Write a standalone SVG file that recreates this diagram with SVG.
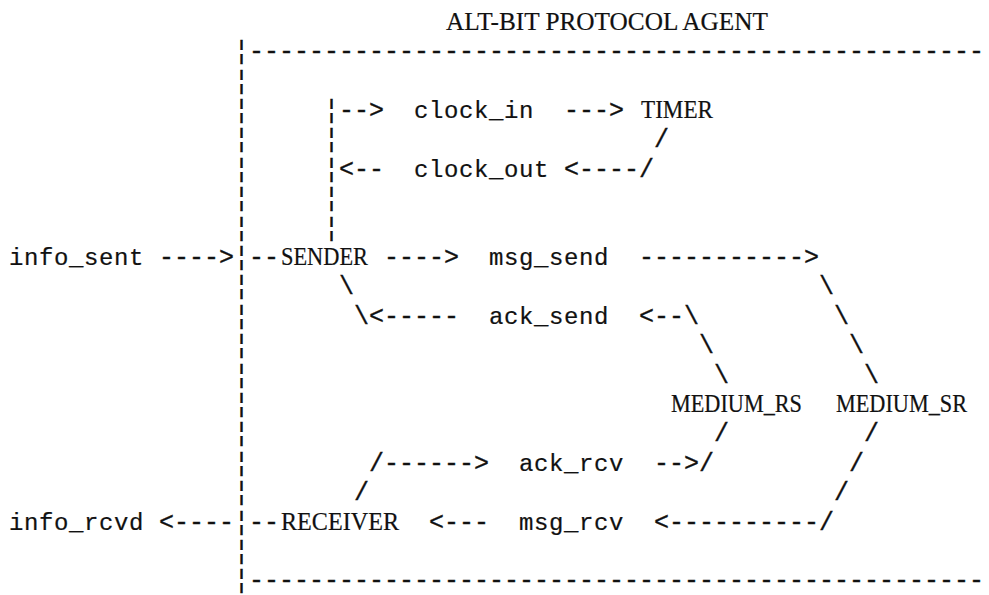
<svg xmlns="http://www.w3.org/2000/svg" width="989" height="595" viewBox="0 0 989 595">
<style>
.c{font-family:"Liberation Mono","DejaVu Sans Mono",monospace;font-size:25px;fill:#111;stroke:#111;stroke-width:0.35px}
.l{font-family:"Liberation Mono","DejaVu Sans Mono",monospace;font-size:24px;letter-spacing:0.6px;fill:#111;stroke:#111;stroke-width:0.2px}
.u{font-family:"Liberation Serif","DejaVu Serif",serif;font-size:25px;fill:#111;stroke:#111;stroke-width:0.2px}
</style>
<rect width="989" height="595" fill="#fff"/>
<g id="title">
<text class="u" x="446" y="29.8" textLength="322" lengthAdjust="spacingAndGlyphs">ALT-BIT PROTOCOL AGENT</text>
</g>
<g id="agent-boundary">
<text class="c" x="234 234 234 234 234 234 234 234 234 234 234 234 234 234 234 234 234 234 234" y="59.2 88.6 118 147.4 176.8 206.2 235.6 265 294.4 323.8 353.2 382.6 412 441.4 470.8 500.2 529.6 559 588.4">¦¦¦¦¦¦¦¦¦¦¦¦¦¦¦¦¦¦¦</text>
<text class="c" x="249" y="59.2">-------------------------------------------------</text>
<text class="c" x="249" y="588.4">-------------------------------------------------</text>
</g>
<g id="node-sender">
<text class="u" x="281" y="265" textLength="87" lengthAdjust="spacingAndGlyphs">SENDER</text>
</g>
<g id="node-receiver">
<text class="u" x="281" y="529.6" textLength="118" lengthAdjust="spacingAndGlyphs">RECEIVER</text>
</g>
<g id="node-timer">
<text class="u" x="641" y="118" textLength="72" lengthAdjust="spacingAndGlyphs">TIMER</text>
</g>
<g id="node-medium-rs">
<text class="u" x="671" y="412" textLength="131" lengthAdjust="spacingAndGlyphs">MEDIUM_RS</text>
</g>
<g id="node-medium-sr">
<text class="u" x="836" y="412" textLength="131" lengthAdjust="spacingAndGlyphs">MEDIUM_SR</text>
</g>
<g id="label-info-sent"><text class="l" x="9" y="265">info_sent</text></g>
<g id="label-info-rcvd"><text class="l" x="9" y="529.6">info_rcvd</text></g>
<g id="label-clock-in"><text class="l" x="414" y="118">clock_in</text></g>
<g id="label-clock-out"><text class="l" x="414" y="176.8">clock_out</text></g>
<g id="label-msg-send"><text class="l" x="489" y="265">msg_send</text></g>
<g id="label-ack-send"><text class="l" x="489" y="323.8">ack_send</text></g>
<g id="label-ack-rcv"><text class="l" x="519" y="470.8">ack_rcv</text></g>
<g id="label-msg-rcv"><text class="l" x="519" y="529.6">msg_rcv</text></g>
<g id="connectors">
<text class="c" x="324" y="118">¦--&gt;</text>
<text class="c" x="564" y="118">---&gt;</text>
<text class="c" x="324" y="147.4">¦</text>
<text class="c" x="654" y="147.4">/</text>
<text class="c" x="324" y="176.8">¦&lt;--</text>
<text class="c" x="564" y="176.8">&lt;----/</text>
<text class="c" x="324" y="206.2">¦</text>
<text class="c" x="324" y="235.6">¦</text>
<text class="c" x="159" y="265">----&gt;</text>
<text class="c" x="249" y="265">--</text>
<text class="c" x="384" y="265">----&gt;</text>
<text class="c" x="639" y="265">-----------&gt;</text>
<text class="c" x="339" y="294.4">\</text>
<text class="c" x="819" y="294.4">\</text>
<text class="c" x="354" y="323.8">\&lt;-----</text>
<text class="c" x="639" y="323.8">&lt;--\</text>
<text class="c" x="834" y="323.8">\</text>
<text class="c" x="699" y="353.2">\</text>
<text class="c" x="849" y="353.2">\</text>
<text class="c" x="714" y="382.6">\</text>
<text class="c" x="864" y="382.6">\</text>
<text class="c" x="714" y="441.4">/</text>
<text class="c" x="864" y="441.4">/</text>
<text class="c" x="369" y="470.8">/------&gt;</text>
<text class="c" x="654" y="470.8">--&gt;/</text>
<text class="c" x="849" y="470.8">/</text>
<text class="c" x="354" y="500.2">/</text>
<text class="c" x="834" y="500.2">/</text>
<text class="c" x="159" y="529.6">&lt;----</text>
<text class="c" x="249" y="529.6">--</text>
<text class="c" x="429" y="529.6">&lt;---</text>
<text class="c" x="654" y="529.6">&lt;----------/</text>
</g>
</svg>
